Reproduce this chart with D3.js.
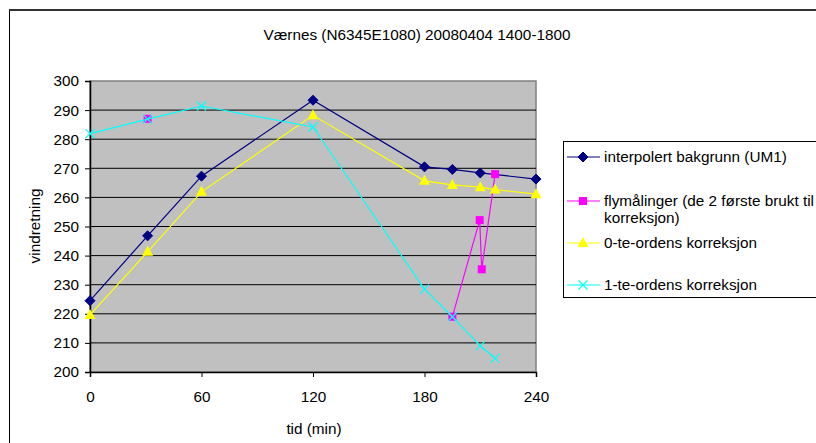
<!DOCTYPE html>
<html>
<head>
<meta charset="utf-8">
<script src="https://cdn.jsdelivr.net/npm/d3@7"></script>
<style>
  body { margin: 0; background: #fff; }
  svg { display: block; font-family: "Liberation Sans", Arial, sans-serif; }
</style>
</head>
<body>
<div id="chart"></div>
<script>
// data
const title = "Værnes (N6345E1080) 20080404 1400-1800";
const xTicks = [0, 60, 120, 180, 240];
const yTicks = [200, 210, 220, 230, 240, 250, 260, 270, 280, 290, 300];

const bakgrunnT = [0, 31, 60, 120, 180, 195, 210, 240];
const bakgrunnV = [224.5, 246.8, 267.3, 293.4, 270.5, 269.6, 268.4, 266.3];

// null = gap in the line (first point stands alone)
const flyT = [31, null, 195, 209.7, 210.8, 218];
const flyV = [287, null, 219, 252.2, 235.3, 268];

const orden0T = [0, 31, 60, 120, 180, 195, 210, 218, 240];
const orden0V = [219.6, 241.3, 261.9, 288.2, 265.7, 264.3, 263.5, 262.7, 261.1];

const orden1T = [0, 31, 60, 120, 180, 195, 210, 218];
const orden1V = [281.9, 286.9, 291.4, 284.2, 228.5, 219, 209, 204.7];

const series = [
  { name: ["interpolert bakgrunn (UM1)"], t: bakgrunnT, v: bakgrunnV, color: "#000080", marker: "diamond" },
  { name: ["flymålinger (de 2 første brukt til", "korreksjon)"], t: flyT, v: flyV, color: "#ff00ff", marker: "square" },
  { name: ["0-te-ordens korreksjon"], t: orden0T, v: orden0V, color: "#ffff00", marker: "triangle" },
  { name: ["1-te-ordens korreksjon"], t: orden1T, v: orden1V, color: "#00ffff", marker: "cross" },
];

const W = 816, H = 443;
const FS = 15.3;
const plot = { left: 90, top: 81, right: 536, bottom: 372 };

const svg = d3.select("#chart").append("svg").attr("width", W).attr("height", H);

// outer chart frame
svg.append("rect")
  .attr("x", 9.5).attr("y", 10).attr("width", 900).attr("height", 500)
  .attr("fill", "#fff").attr("stroke", "#000").attr("stroke-width", 1);
svg.append("line")
  .attr("x1", 9).attr("x2", W).attr("y1", 10).attr("y2", 10)
  .attr("stroke", "#333").attr("stroke-width", 2);

svg.append("text")
  .attr("x", 417).attr("y", 40)
  .attr("text-anchor", "middle")
  .attr("font-size", FS)
  .text(title);

const x = d3.scaleLinear().domain([0, 240]).range([plot.left, plot.right]);
const y = d3.scaleLinear().domain([200, 300]).range([plot.bottom, plot.top]);

// plot area
svg.append("rect")
  .attr("x", plot.left).attr("y", plot.top)
  .attr("width", plot.right - plot.left).attr("height", plot.bottom - plot.top)
  .attr("fill", "#c0c0c0").attr("stroke", "#808080").attr("stroke-width", 1.5);

// gridlines
svg.append("g")
  .selectAll("line")
  .data(yTicks.slice(1, -1))
  .join("line")
  .attr("x1", plot.left).attr("x2", plot.right)
  .attr("y1", d => y(d)).attr("y2", d => y(d))
  .attr("stroke", "#000").attr("stroke-width", 1);

// axes
const yAxis = svg.append("g")
  .attr("transform", `translate(${plot.left},0)`)
  .call(d3.axisLeft(y).tickValues(yTicks).tickSize(5).tickPadding(6));
const xAxis = svg.append("g")
  .attr("transform", `translate(0,${plot.bottom})`)
  .call(d3.axisBottom(x).tickValues(xTicks).tickSize(5).tickPadding(14));

[xAxis, yAxis].forEach(a => {
  a.selectAll("text").attr("font-size", FS).attr("fill", "#000")
    .attr("font-family", "Liberation Sans, Arial, sans-serif");
  a.selectAll("line").attr("stroke", "#000");
  a.select(".domain").attr("stroke", "#000").attr("stroke-width", 1.5);
});

svg.append("text")
  .attr("x", 314).attr("y", 434)
  .attr("text-anchor", "middle").attr("font-size", FS)
  .text("tid (min)");

svg.append("text")
  .attr("transform", "translate(40,226) rotate(-90)")
  .attr("text-anchor", "middle").attr("font-size", FS)
  .text("vindretning");

// markers
function drawMarker(g, type, color) {
  if (type === "diamond") {
    g.append("path").attr("d", "M0,-5L5,0L0,5L-5,0Z").attr("fill", color).attr("stroke", color);
  } else if (type === "square") {
    g.append("rect").attr("x", -4).attr("y", -4).attr("width", 8).attr("height", 8).attr("fill", color);
  } else if (type === "triangle") {
    g.append("path").attr("d", "M0,-6L5.5,4L-5.5,4Z").attr("fill", color);
  } else if (type === "cross") {
    g.append("path").attr("d", "M-4.5,-4.5L4.5,4.5M-4.5,4.5L4.5,-4.5")
      .attr("stroke", color).attr("stroke-width", 1.2).attr("fill", "none");
  }
}

const line = d3.line()
  .defined(d => d[0] !== null && d[1] !== null)
  .x(d => x(d[0])).y(d => y(d[1]));

series.forEach(s => {
  const pts = s.t.map((t, i) => [t, s.v[i]]);
  svg.append("path")
    .datum(pts)
    .attr("d", line)
    .attr("fill", "none")
    .attr("stroke", s.color)
    .attr("stroke-width", 1.2);
  svg.append("g")
    .selectAll("g")
    .data(pts.filter(p => p[0] !== null))
    .join("g")
    .attr("transform", d => `translate(${x(d[0])},${y(d[1])})`)
    .each(function () { drawMarker(d3.select(this), s.marker, s.color); });
});

// legend
const legend = svg.append("g");
legend.append("rect")
  .attr("x", 563.5).attr("y", 141.5).attr("width", 300).attr("height", 156)
  .attr("fill", "#fff").attr("stroke", "#000").attr("stroke-width", 1);

const legendY = [157, 201, 243, 285];
series.forEach((s, i) => {
  const ly = legendY[i];
  legend.append("line")
    .attr("x1", 567).attr("x2", 600).attr("y1", ly).attr("y2", ly)
    .attr("stroke", s.color).attr("stroke-width", 1.2);
  drawMarker(legend.append("g").attr("transform", `translate(583,${ly})`), s.marker, s.color);
  s.name.forEach((txt, j) => {
    legend.append("text")
      .attr("x", 604).attr("y", ly + 5 + j * 17)
      .attr("font-size", FS)
      .text(txt);
  });
});
</script>
</body>
</html>
